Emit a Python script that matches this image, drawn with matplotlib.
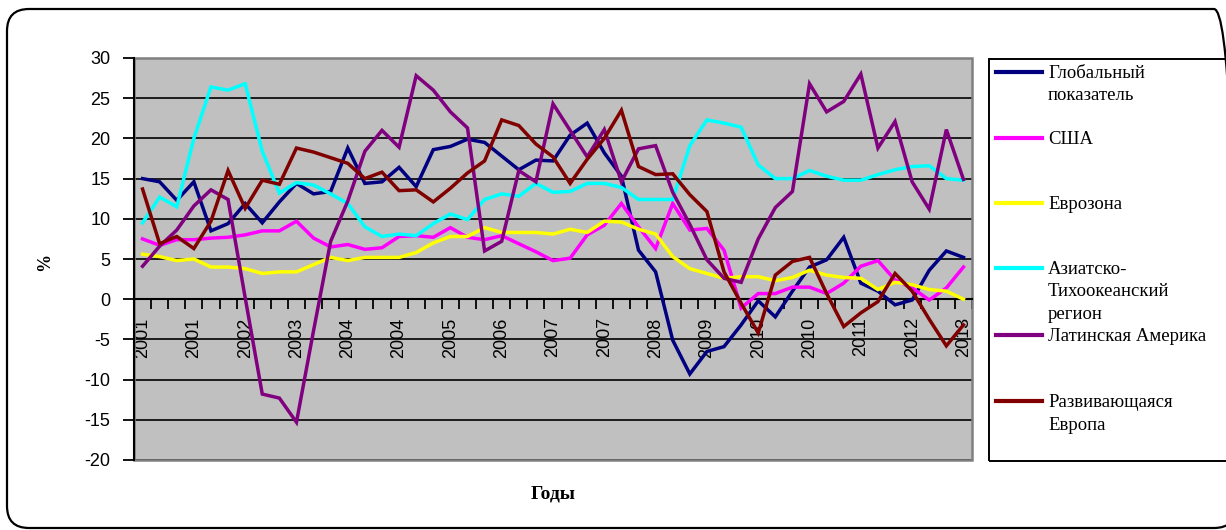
import numpy as np
import matplotlib
matplotlib.use("Agg")
import matplotlib.pyplot as plt
from matplotlib.patches import FancyBboxPatch, Rectangle
from matplotlib.lines import Line2D
from matplotlib.transforms import Affine2D

plt.rcParams["axes.unicode_minus"] = False

# Quarterly growth rates, 2001 Q1 - 2013 Q1 (%)
quarters = list(range(49))
tick_labels = ["2001", "2001", "2002", "2003", "2004", "2004", "2005", "2006",
               "2007", "2007", "2008", "2009", "2010", "2010", "2011", "2012", "2013"]

global_idx = [15.0, 14.6, 12.3, 14.6, 8.5, 9.4, 11.9, 9.5, 12.1, 14.4,
              13.1, 13.4, 18.8, 14.4, 14.6, 16.4, 14.0, 18.6, 19.0, 19.9,
              19.5, 17.8, 16.1, 17.3, 17.2, 20.4, 21.9, 18.2, 15.3, 6.1,
              3.4, -5.1, -9.3, -6.5, -5.9, -3.2, -0.2, -2.2, 1.0, 4.0,
              4.9, 7.7, 2.0, 1.0, -0.7, -0.1, 3.6, 6.0, 5.2]
usa = [7.5, 6.7, 7.4, 7.4, 7.6, 7.7, 8.0, 8.5, 8.5, 9.7,
       7.6, 6.5, 6.8, 6.2, 6.4, 7.8, 7.9, 7.7, 8.9, 7.7,
       7.4, 7.9, 6.9, 5.9, 4.8, 5.1, 8.0, 9.2, 11.9, 9.0,
       6.3, 11.9, 8.6, 8.8, 6.1, -1.1, 0.7, 0.7, 1.5, 1.5,
       0.7, 2.0, 4.1, 4.8, 2.4, 1.4, -0.1, 1.4, 4.0]
eurozone = [5.6, 5.3, 4.8, 5.0, 4.0, 4.0, 3.8, 3.2, 3.4, 3.4,
            4.3, 5.2, 4.8, 5.2, 5.2, 5.2, 5.8, 7.0, 7.8, 7.8,
            8.9, 8.3, 8.3, 8.3, 8.1, 8.7, 8.3, 9.7, 9.6, 8.7,
            8.1, 5.3, 3.8, 3.2, 2.6, 2.8, 2.8, 2.3, 2.7, 3.6,
            3.0, 2.7, 2.6, 1.2, 2.1, 1.8, 1.2, 1.0, 0.0]
asia_pacific = [9.5, 12.7, 11.5, 20.0, 26.4, 26.0, 26.8, 18.4, 13.2, 14.5,
                14.2, 13.1, 11.9, 9.0, 7.8, 8.1, 7.9, 9.4, 10.6, 9.9,
                12.4, 13.1, 12.8, 14.4, 13.3, 13.4, 14.4, 14.4, 13.9, 12.4,
                12.4, 12.4, 19.1, 22.3, 21.9, 21.4, 16.7, 15.0, 15.0, 16.0,
                15.3, 14.8, 14.8, 15.5, 16.1, 16.5, 16.6, 15.0, 14.8]
latin_america = [4.1, 6.6, 8.6, 11.6, 13.6, 12.4, 0.2, -11.8, -12.3, -15.3,
                 -3.9, 7.2, 12.2, 18.4, 21.0, 18.9, 27.8, 26.0, 23.3, 21.3,
                 6.0, 7.2, 16.0, 14.6, 24.3, 21.0, 17.7, 21.1, 14.6, 18.7,
                 19.1, 13.3, 9.3, 4.9, 2.6, 2.1, 7.5, 11.4, 13.4, 26.8,
                 23.3, 24.6, 28.0, 18.8, 22.1, 14.6, 11.2, 21.1, 14.9]
emerging_europe = [13.7, 6.9, 7.8, 6.3, 9.7, 16.0, 11.3, 14.8, 14.3, 18.8,
                   18.3, 17.6, 16.9, 15.0, 15.8, 13.5, 13.6, 12.1, 13.8, 15.7,
                   17.2, 22.3, 21.6, 19.3, 17.7, 14.4, 17.4, 20.0, 23.5, 16.5,
                   15.5, 15.6, 13.0, 10.9, 3.4, -0.5, -4.2, 3.0, 4.7, 5.2,
                   0.7, -3.4, -1.7, -0.3, 3.2, 1.0, -2.5, -5.8, -3.2]

series = [
    ("Глобальный\nпоказатель", global_idx, "#000080"),
    ("США", usa, "#FF00FF"),
    ("Еврозона", eurozone, "#FFFF00"),
    ("Азиатско-\nТихоокеанский\nрегион", asia_pacific, "#00FFFF"),
    ("Латинская Америка", latin_america, "#800080"),
    ("Развивающаяся\nЕвропа", emerging_europe, "#800000"),
]

W, H = 1226, 530
fig = plt.figure(figsize=(W / 100, H / 100), dpi=100)
px = Affine2D().scale(1.0 / W, 1.0 / H) + fig.transFigure

# rounded outer chart border (its right side runs past the canvas edge)
fig.patches.append(FancyBboxPatch((7, 2), 1229, 519,
                                  boxstyle="round,pad=0,rounding_size=22",
                                  transform=px, fill=False, edgecolor="black",
                                  linewidth=1.6, zorder=0))

ax = fig.add_axes([134 / W, (H - 460) / H, 838 / W, 402 / H])
ax.set_facecolor("#C0C0C0")

for label, values, color in series:
    ax.plot(quarters, values, color=color, linewidth=2.5, solid_joinstyle="miter",
            zorder=3)

ax.set_xlim(-0.5, 48.5)
ax.set_ylim(-20, 30)
ax.set_yticks(np.arange(-20, 31, 5))
ax.grid(axis="y", color="black", linewidth=1.2, zorder=1)
ax.set_axisbelow(True)

# plot-area frame
for s in ("top", "right"):
    ax.spines[s].set_visible(False)
ax.add_patch(Rectangle((0, 0), 1, 1, transform=ax.transAxes, fill=False,
                       edgecolor="#808080", linewidth=1.8, zorder=2, clip_on=False))
ax.spines["left"].set_color("black")
ax.spines["left"].set_linewidth(1.5)
ax.spines["left"].set_zorder(4)
ax.spines["bottom"].set_position(("data", 0))
ax.spines["bottom"].set_color("black")
ax.spines["bottom"].set_linewidth(1.5)

# category axis: tick marks between quarters, year labels every third quarter
ax.set_xticks(quarters[::3])
ax.set_xticklabels(tick_labels, rotation=90, fontsize=13, family="Liberation Sans")
ax.set_xticks(np.arange(-0.5, 49, 1), minor=True)
ax.tick_params(axis="x", which="major", length=0, pad=13)
ax.tick_params(axis="x", which="minor", length=7, width=1.3, color="black",
               direction="out")
ax.tick_params(axis="y", length=8, width=1.3, pad=9, labelsize=13)
for t in ax.get_yticklabels():
    t.set_family("Liberation Sans")

fig.text(45 / W, 1 - 262 / H, "%", rotation=90, ha="center", va="center",
         fontsize=13, fontweight="bold", family="Liberation Serif")
fig.text(553 / W, 1 - 494 / H, "Годы", ha="center", va="center",
         fontsize=14, fontweight="bold", family="Liberation Serif")

# legend box
fig.patches.append(Rectangle((989, H - 461), 260, 402, transform=px, fill=False,
                             edgecolor="black", linewidth=1.4, zorder=5))
line_y = [72, 138, 203, 268, 335, 401]
for (label, values, color), ly in zip(series, line_y):
    fig.lines.append(Line2D([996, 1042], [H - ly, H - ly], transform=px,
                            color=color, linewidth=3, zorder=6))
    for k, part in enumerate(label.split("\n")):
        fig.text(1048 / W, 1 - (ly + 6 + 22.5 * k) / H, part, ha="left",
                 va="baseline", fontsize=13.5, family="Liberation Serif", zorder=6)

fig.savefig("out.png", dpi=100)
